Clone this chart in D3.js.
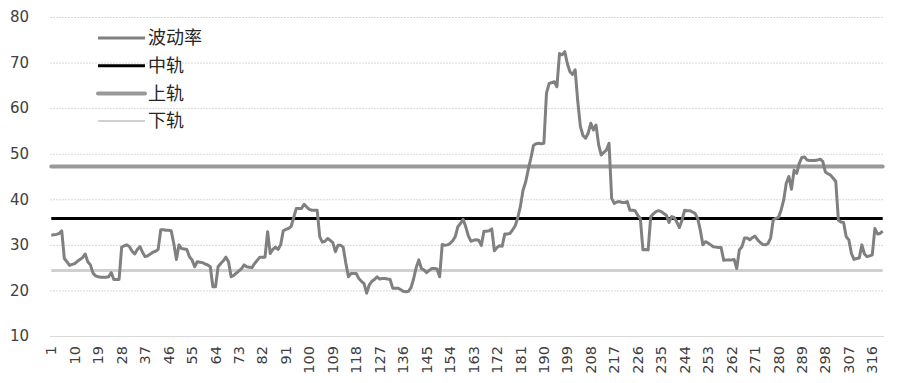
<!DOCTYPE html>
<html>
<head>
<meta charset="utf-8">
<script src="https://cdn.jsdelivr.net/npm/d3@7"></script>
<style>
body { margin: 0; background: #fff; }
.axisClass text { font-family: "DejaVu Sans", sans-serif; fill: #404040; }
.legendText { font-family: "Noto Sans CJK SC", sans-serif; font-size: 18px; fill: #262626; }
</style>
</head>
<body>
<div id="chart"></div>
<script>

// 波动率 values, category 1..320
const volValues = [
 32.1, 32.2, 32.3, 32.5, 33.1, 27.0, 26.3, 25.5, 25.7, 25.9,
 26.4, 26.8, 27.2, 28.0, 26.3, 25.6, 23.8, 23.2, 23.0, 22.9,
 22.9, 22.9, 23.0, 23.9, 22.4, 22.4, 22.4, 29.5, 29.8, 30.0,
 29.6, 28.6, 28.0, 29.0, 29.6, 28.4, 27.4, 27.6, 28.0, 28.4,
 28.6, 29.0, 33.3, 33.3, 33.2, 33.2, 33.1, 30.3, 26.8, 30.0,
 29.2, 29.1, 29.0, 27.4, 26.7, 25.2, 26.3, 26.2, 26.1, 25.8,
 25.6, 25.2, 20.8, 20.8, 25.2, 25.9, 26.5, 27.3, 26.3, 23.0,
 23.3, 23.8, 24.3, 24.8, 25.6, 25.2, 25.1, 25.0, 25.9, 26.6,
 27.3, 27.3, 27.3, 32.9, 28.1, 29.0, 29.5, 29.0, 30.0, 33.1,
 33.4, 33.6, 34.0, 36.0, 38.0, 38.0, 38.0, 38.9, 38.3, 37.8,
 37.6, 37.6, 37.6, 31.8, 30.6, 30.8, 31.4, 31.0, 30.5, 28.5,
 29.9, 29.9, 29.5, 26.0, 23.0, 23.7, 23.7, 23.7, 22.6, 22.0,
 21.5, 19.4, 21.2, 22.0, 22.4, 23.0, 22.5, 22.6, 22.6, 22.5,
 22.4, 20.5, 20.5, 20.5, 20.2, 19.8, 19.7, 19.8, 20.6, 22.5,
 25.0, 26.7, 24.8, 24.5, 23.9, 24.4, 24.8, 24.8, 24.7, 23.0,
 30.1, 29.9, 30.0, 30.3, 30.9, 31.8, 34.0, 34.7, 35.6, 34.0,
 32.0, 30.8, 31.0, 31.1, 31.0, 29.9, 33.0, 33.0, 33.1, 33.5,
 28.7, 29.4, 29.8, 29.7, 32.4, 32.4, 32.5, 33.3, 34.2, 36.0,
 38.5, 42.0, 43.8, 46.5, 49.0, 51.8, 52.2, 52.3, 52.2, 52.3,
 63.3, 65.4, 65.6, 65.8, 64.7, 72.0, 71.7, 72.4, 69.8, 68.0,
 67.4, 68.4, 61.5, 56.0, 54.0, 53.4, 54.5, 56.7, 55.2, 56.3,
 52.0, 49.7, 50.3, 50.8, 52.3, 40.2, 39.1, 39.4, 39.5, 39.3,
 39.3, 39.5, 37.6, 37.6, 37.5, 36.5, 35.8, 28.9, 29.0, 28.9,
 36.2, 36.8, 37.3, 37.5, 37.3, 36.9, 36.5, 34.9, 36.2, 36.0,
 35.0, 33.8, 35.4, 37.6, 37.5, 37.5, 37.2, 36.9, 35.8, 33.3,
 30.0, 30.7, 30.4, 30.0, 29.6, 29.5, 29.4, 29.4, 26.6, 26.7,
 26.7, 26.7, 26.8, 24.8, 28.9, 29.6, 31.5, 31.5, 31.1, 31.6,
 31.9, 31.1, 30.5, 30.1, 30.0, 30.3, 31.5, 35.5, 35.8, 36.0,
 37.6, 39.8, 43.5, 45.0, 42.2, 46.4, 45.7, 47.9, 49.2, 49.3,
 48.6, 48.5, 48.5, 48.5, 48.6, 48.8, 48.3, 46.0, 45.6, 45.3,
 44.6, 43.9, 35.4, 35.0, 34.9, 31.8, 31.1, 28.1, 26.8, 27.0,
 27.1, 30.0, 28.0, 27.4, 27.6, 27.8, 33.6, 32.4, 32.5, 33.0
]

const categories = volValues.map((d, i) => i + 1)

// bands
const midValue = 35.8
const upValue = 47.2
const lowValue = 24.4

const yTicks = [10, 20, 30, 40, 50, 60, 70, 80]
const xTickLabels = [1, 10, 19, 28, 37, 46, 55, 64, 73, 82, 91, 100, 109, 118, 127, 136, 145, 154, 163, 172, 181, 190, 199, 208, 217, 226, 235, 244, 253, 262, 271, 280, 289, 298, 307, 316]

const seriesNames = ["波动率", "中轨", "上轨", "下轨"]

const config = {
    top: 17,
    right: 16,
    bottom: 47,
    left: 50,
}

const width = 900
const height = 383

const svg = d3.select('#chart').append('svg').attr("width", width).attr("height", height)

const xScale = d3.scaleBand().domain(categories).range([config.left, width - config.right])
const yScale = d3.scaleLinear().domain([10, 80]).range([height - config.bottom, config.top])

const xPos = d => xScale(d) + xScale.bandwidth() / 2

// gridlines
svg.append('g')
    .selectAll('line')
    .data(yTicks)
    .enter()
    .append('line')
    .attr("x1", config.left)
    .attr("x2", width - config.right)
    .attr("y1", d => yScale(d) + 0.5)
    .attr("y2", d => yScale(d) + 0.5)
    .attr("stroke", "#d9d9d9")
    .attr("stroke-width", 1)
    .attr("stroke-dasharray", d => d == 10 ? null : "2,1")

// y axis labels
const axisLeft = d3.axisLeft(yScale).tickValues(yTicks).tickSize(0).tickPadding(0)
svg.append('g')
    .attr("transform", "translate(29,0)")
    .attr('class', "axisClass")
    .call(axisLeft)
    .call(g => g.select(".domain").remove())
    .selectAll("text")
    .style("font-size", "15px")

// x axis labels, rotated
const axisBottom = d3.axisBottom(xScale).tickValues(xTickLabels).tickSize(0).tickPadding(0)
svg.append('g')
    .attr("transform", `translate(0,${height - config.bottom})`)
    .attr('class', "axisClass")
    .call(axisBottom)
    .call(g => g.select(".domain").remove())
    .selectAll("text")
    .style("font-size", "14.5px")
    .attr("text-anchor", "end")
    .attr("dy", "0.35em")
    .attr("transform", "translate(0,10) rotate(-90)")
    .attr("x", 0)
    .attr("y", 0)

// lines
const bandLine = v => d3.line().x(d => xPos(d)).y(d => yScale(v))

svg.append('path')
    .datum(categories)
    .attr("d", bandLine(lowValue))
    .attr("fill", "none")
    .attr("stroke", "#d0d0d0")
    .attr("stroke-width", 3)

svg.append('path')
    .datum(categories)
    .attr("d", bandLine(upValue))
    .attr("fill", "none")
    .attr("stroke", "#999999")
    .attr("stroke-width", 4)
    .attr("stroke-linecap", "round")

svg.append('path')
    .datum(categories)
    .attr("d", bandLine(midValue))
    .attr("fill", "none")
    .attr("stroke", "#000000")
    .attr("stroke-width", 3)

const lineGenerator = d3.line()
    .x((d, i) => xPos(categories[i]))
    .y(d => yScale(d))

svg.append('path')
    .datum(volValues)
    .attr("d", lineGenerator)
    .attr("fill", "none")
    .attr("stroke", "#808080")
    .attr("stroke-width", 3)
    .attr("stroke-linejoin", "round")

// legend
const legendStyle = [
    { color: "#808080", w: 3 },
    { color: "#000000", w: 3 },
    { color: "#999999", w: 4 },
    { color: "#d0d0d0", w: 2 },
]

const legend = svg.append('g').attr("transform", "translate(98,38)")

seriesNames.forEach(function (name, i) {
    const row = legend.append('g').attr("transform", `translate(0,${i * 27.7})`)
    row.append('line')
        .attr("x1", 0).attr("x2", 47)
        .attr("y1", 0).attr("y2", 0)
        .attr("stroke", legendStyle[i].color)
        .attr("stroke-width", legendStyle[i].w)
        .attr("stroke-linecap", i == 2 ? "round" : "butt")
    row.append('text')
        .attr("class", "legendText")
        .attr("x", 50)
        .attr("y", 0)
        .attr("dy", "0.35em")
        .text(name)
})

</script>
</body>
</html>
